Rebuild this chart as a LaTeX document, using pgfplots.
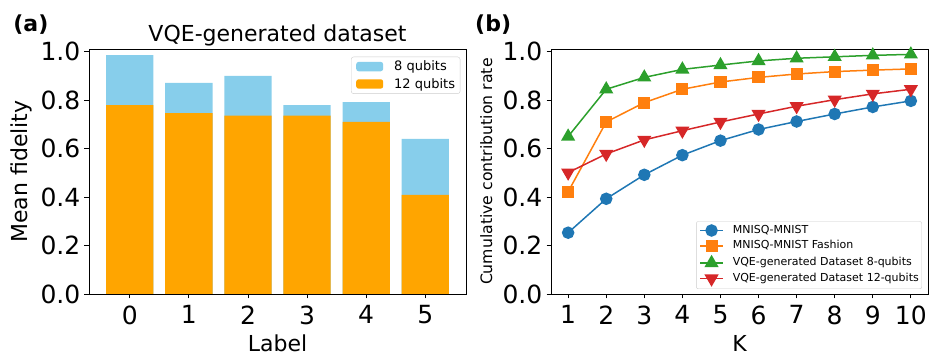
\documentclass[border=0pt]{standalone}
\usepackage{pgfplots}
\pgfplotsset{compat=1.18}
\usepackage{fontspec}
\setmainfont{DejaVu Sans}
\definecolor{skyb}{HTML}{87CEEB}
\definecolor{orng}{HTML}{FFA500}
\definecolor{tabblue}{HTML}{1F77B4}
\definecolor{taborange}{HTML}{FF7F0E}
\definecolor{tabgreen}{HTML}{2CA02C}
\definecolor{tabred}{HTML}{D62728}

\pgfplotsset{
  myaxis/.style={
    scale only axis, width=377pt, height=244.7pt, anchor=south west,
    ymin=0, ymax=1.01, ytick={0,0.2,0.4,0.6,0.8,1.0},
    axis line style={line width=0.8pt},
    tick align=outside, tick pos=left, major tick length=4.5pt,
    every tick/.style={black, line width=0.8pt},
    /pgf/number format/assume math mode=true,
    yticklabel style={/pgf/number format/.cd, fixed, fixed zerofill, precision=1, /tikz/.cd,
      font=\fontsize{25}{25}\selectfont, anchor=east, inner sep=0pt, xshift=-4pt},
    xticklabel style={font=\fontsize{25}{25}\selectfont, anchor=north, inner sep=0pt, yshift=-7pt},
    every axis x label/.style={at={(axis description cs:0.5,0)}, anchor=base, yshift=-57.5pt},
    legend cell align=left,
  }
}

\begin{document}
\begin{tikzpicture}
\useasboundingbox (0,0) rectangle (932pt,355pt);

% ---------- (a) ----------
\begin{axis}[myaxis, at={(89pt,61pt)},
  xmin=-0.69, xmax=5.69, xtick={0,1,2,3,4,5},
  xlabel={Label}, xlabel style={font=\fontsize{22}{22}\selectfont},
  ylabel={Mean fidelity},
  every axis y label/.style={at={(axis description cs:-0.1618,0.5)}, rotate=90, anchor=base, font=\fontsize{22}{22}\selectfont},
  title={VQE-generated dataset},
  every axis title/.style={at={(axis description cs:0.5,1)}, anchor=base, yshift=7.8pt, font=\fontsize{22}{22}\selectfont},
  legend style={font=\fontsize{13}{13}\selectfont, draw=black!20, rounded corners=2.5pt,
    fill=white, fill opacity=0.8, text opacity=1,
    at={(axis description cs:1,1)}, anchor=north east, xshift=-5.7pt, yshift=-7.4pt,
    inner xsep=5pt, inner ysep=4pt, row sep=6pt, nodes={inner sep=0pt}},
]
\addplot[ybar, bar width=0.8, bar shift=0pt, fill=skyb, draw=none,
  legend image code/.code={\fill[skyb, fill opacity=1] (0pt,-4.7pt) rectangle (27pt,4.7pt); \path (38pt,0pt);}]
  coordinates {(0,0.986) (1,0.871) (2,0.900) (3,0.780) (4,0.792) (5,0.640)};
\addlegendentry{8 qubits}
\addplot[ybar, bar width=0.8, bar shift=0pt, fill=orng, draw=none,
  legend image code/.code={\fill[orng, fill opacity=1] (0pt,-4.7pt) rectangle (27pt,4.7pt); \path (38pt,0pt);}]
  coordinates {(0,0.780) (1,0.747) (2,0.736) (3,0.736) (4,0.710) (5,0.409)};
\addlegendentry{12 qubits}
\end{axis}

% ---------- (b) ----------
\begin{axis}[myaxis, at={(551pt,61pt)},
  xmin=0.55, xmax=10.45, xtick={1,2,3,4,5,6,7,8,9,10},
  xlabel={K}, xlabel style={font=\fontsize{22}{22}\selectfont},
  ylabel={Cumulative contribution rate},
  every axis y label/.style={at={(axis description cs:-0.156,0.5)}, rotate=90, anchor=base, font=\fontsize{15.7}{15.7}\selectfont},
  legend style={font=\fontsize{11}{11}\selectfont, draw=black!20, rounded corners=2pt,
    fill=white, fill opacity=0.8, text opacity=1,
    at={(axis description cs:1,0)}, anchor=south east, xshift=-6pt, yshift=5pt,
    inner xsep=3pt, inner ysep=3.5pt, row sep=4.7pt, nodes={inner sep=0pt, text height=8.3pt, text depth=2.6pt}},
  legend image code/.code={\draw[mark repeat=2,mark phase=2,draw opacity=1,fill opacity=1,#1] plot coordinates {(0pt,0pt)(11.5pt,0pt)(23pt,0pt)}; \path (32pt,0pt);},
]
\addplot[color=tabblue, line width=1.5pt, mark=*, mark size=5.5pt, mark options={solid}]
  coordinates {(1,0.253) (2,0.393) (3,0.492) (4,0.573) (5,0.633) (6,0.679) (7,0.712) (8,0.743) (9,0.772) (10,0.797)};
\addlegendentry{MNISQ-MNIST}
\addplot[color=taborange, line width=1.5pt, mark=square*, mark size=5.3pt, mark options={solid}]
  coordinates {(1,0.422) (2,0.710) (3,0.790) (4,0.845) (5,0.875) (6,0.894) (7,0.908) (8,0.918) (9,0.924) (10,0.929)};
\addlegendentry{MNISQ-MNIST Fashion}
\addplot[color=tabgreen, line width=1.5pt, mark=triangle*, mark size=6.7pt, mark options={solid}]
  coordinates {(1,0.650) (2,0.845) (3,0.894) (4,0.927) (5,0.945) (6,0.962) (7,0.973) (8,0.979) (9,0.985) (10,0.989)};
\addlegendentry{VQE-generated Dataset 8-qubits}
\addplot[color=tabred, line width=1.5pt, mark=triangle*, mark size=6.7pt, mark options={solid, rotate=180}]
  coordinates {(1,0.501) (2,0.578) (3,0.636) (4,0.674) (5,0.710) (6,0.743) (7,0.775) (8,0.802) (9,0.826) (10,0.845)};
\addlegendentry{VQE-generated Dataset 12-qubits}
\end{axis}

\node[anchor=base west, inner sep=0pt, font=\bfseries\fontsize{22}{22}\selectfont] at (13.2pt,323pt) {(a)};
\node[anchor=base west, inner sep=0pt, font=\bfseries\fontsize{22}{22}\selectfont] at (475pt,323pt) {(b)};
\end{tikzpicture}
\end{document}
